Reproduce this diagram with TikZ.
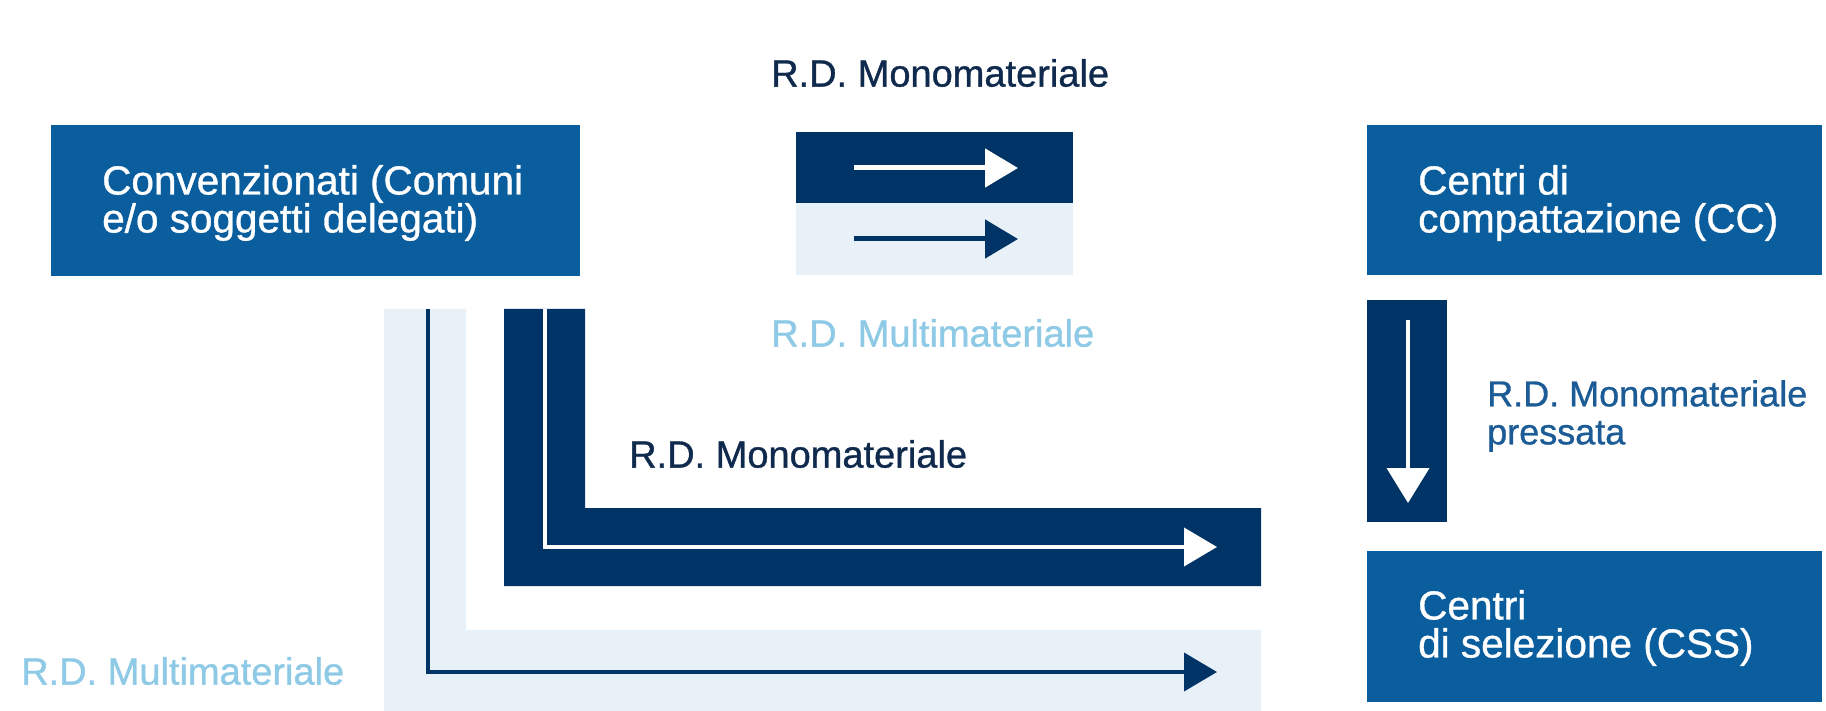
\documentclass[tikz,border=0pt]{standalone}
\usepackage{fontspec}
\setmainfont{Liberation Sans}[BoldFont={Liberation Sans}, BoldFeatures={FakeBold=0.9}]
\usetikzlibrary{arrows.meta}
\definecolor{boxblue}{RGB}{11,94,158}
\definecolor{navy}{RGB}{0,51,102}
\definecolor{pale}{RGB}{232,240,248}
\definecolor{skytext}{RGB}{142,202,230}
\definecolor{midtext}{RGB}{28,92,150}
\definecolor{darktext}{RGB}{16,42,78}
\begin{document}
\begin{tikzpicture}[x=1pt,y=-1pt,
  bluebox/.style={fill=boxblue, draw=none, inner sep=0pt, anchor=north west},
  navybox/.style={fill=navy, draw=none, inner sep=0pt, anchor=north west},
  palebox/.style={fill=pale, draw=none, inner sep=0pt, anchor=north west},
  boxtext/.style={text=white, font=\fontsize{40.5}{38}\selectfont\bfseries, align=left, anchor=west, inner sep=0pt},
  lbl/.style={font=\fontsize{38}{38}\selectfont\bfseries, anchor=west, inner sep=0pt, align=left},
  whitearrow/.style={draw=white, line width=5pt, -{Triangle[length=33pt,width=38pt]}},
  navyarrow/.style={draw=navy, line width=5pt, -{Triangle[length=33pt,width=38pt]}},
]
\useasboundingbox (0,0) rectangle (1826,711);
\fill[white] (0,0) rectangle (1826,711);

% main boxes
\node[bluebox, minimum width=529pt, minimum height=151pt] (conv) at (51,125) {};
\node[bluebox, minimum width=455pt, minimum height=150pt] (cc) at (1367,125) {};
\node[bluebox, minimum width=455pt, minimum height=151pt] (css) at (1367,551) {};
\node[boxtext] (convt) at (102,203) {Convenzionati (Comuni\\e/o soggetti delegati)};
\node[boxtext] (cct) at (1418,203) {Centri di\\compattazione (CC)};
\node[boxtext] (csst) at (1418,628) {Centri\\di selezione (CSS)};

% legend
\node[navybox, minimum width=277pt, minimum height=71pt] (legmono) at (796,132) {};
\node[palebox, minimum width=277pt, minimum height=72pt] (legmulti) at (796,203) {};
\coordinate (lm1) at (854,168);
\coordinate (lm2) at (1018,168);
\coordinate (lp1) at (854,239);
\coordinate (lp2) at (1018,239);
\draw[whitearrow] (lm1) -- (lm2);
\draw[navyarrow] (lp1) -- (lp2);
\node[lbl, text=darktext] (toplbl) at (771,73) {R.D. Monomateriale};
\node[lbl, text=skytext] (legmultilbl) at (771,333) {R.D. Multimateriale};

% light L band (multimateriale)
\fill[pale] (384,309) -- (466,309) -- (466,630) -- (1261,630) -- (1261,711) -- (384,711) -- cycle;
\coordinate (pa) at (428,309);
\coordinate (pb) at (428,672);
\coordinate (pc) at (1217,672);
\draw[navyarrow, line width=4pt] (pa) -- (pb) -- (pc);

% dark L band (monomateriale)
\fill[navy] (504,309) -- (585,309) -- (585,508) -- (1261,508) -- (1261,586) -- (504,586) -- cycle;
\coordinate (ma) at (545,309);
\coordinate (mb) at (545,547);
\coordinate (mc) at (1217,547);
\draw[whitearrow, line width=4pt] (ma) -- (mb) -- (mc);

\node[lbl, text=darktext] (midlbl) at (629,454) {R.D. Monomateriale};
\node[lbl, text=skytext] (botlbl) at (21,671) {R.D. Multimateriale};

% vertical pressed arrow
\node[navybox, minimum width=80pt, minimum height=222pt] (vbar) at (1367,300) {};
\coordinate (va) at (1408,320);
\coordinate (vb) at (1408,503);
\draw[whitearrow, line width=4pt, -{Triangle[length=35pt,width=42pt]}] (va) -- (vb);
\node[lbl, text=midtext, font=\fontsize{36}{38}\selectfont\bfseries] (presslbl) at (1487,416) {R.D. Monomateriale\\pressata};
\end{tikzpicture}
\end{document}
